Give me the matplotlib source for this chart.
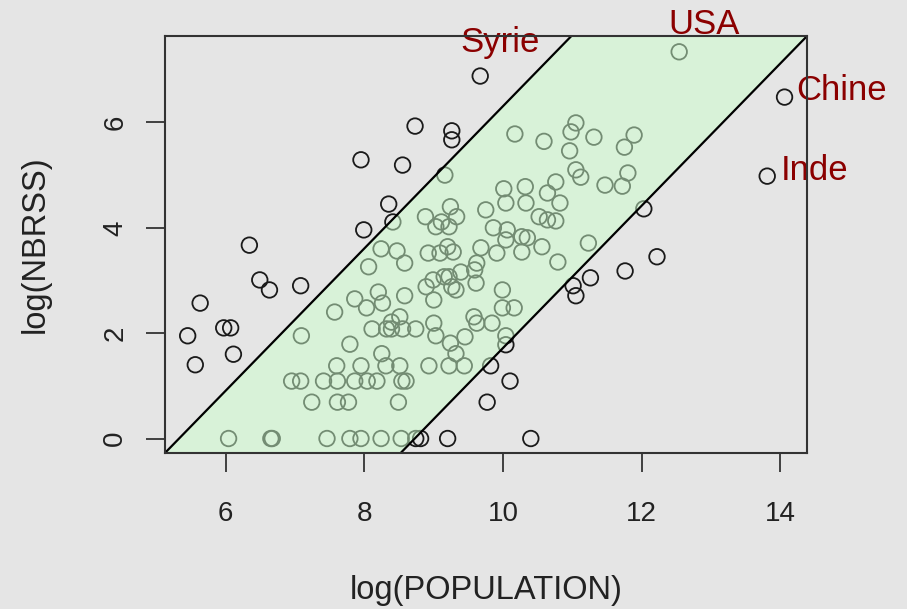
import matplotlib
matplotlib.use("Agg")
import matplotlib.pyplot as plt
from matplotlib.patches import Polygon

# ---- data: log(POPULATION) vs log(NBRSS) ----
log_pop = [
    5.45, 5.56, 5.63, 5.97, 6.07, 6.11, 6.34, 6.49, 6.63, 7.08,
    7.95, 7.99, 8.35, 8.41, 8.55, 8.73, 9.26, 9.26, 9.67, 12.22,
    11.76, 11.26, 11.01, 11.05, 10.04, 9.82, 10.10, 9.77, 9.20, 10.40,
    8.74, 8.81, 14.06, 13.81, 12.03, 12.54, 9.16,
    6.04, 6.65, 6.67, 7.46, 7.79, 7.95, 8.24, 8.53,
    6.95, 7.08, 7.41, 7.61, 7.86, 8.04, 8.18, 8.54, 8.60,
    7.24, 7.61, 7.77, 8.49,
    7.60, 7.95, 8.31, 8.51, 8.93, 9.22, 9.44,
    8.25, 9.32, 9.24, 9.45, 7.79, 7.09,
    8.20, 8.26, 8.58, 7.86, 8.03, 7.57, 8.51, 8.39,
    8.11, 8.32, 8.39, 8.55, 8.74, 9.00, 9.03,
    8.24, 8.47, 8.58, 8.92, 9.09, 9.20, 9.28, 8.06,
    8.89, 8.99, 9.22, 9.26, 9.39, 9.32, 9.61, 9.59, 9.62, 9.58, 9.62, 9.00,
    9.68, 9.91, 10.04, 10.27, 10.35, 10.27, 10.56, 10.79, 9.99, 9.99, 10.16,
    9.84, 10.04, 9.15,
    9.24, 9.33, 9.11, 9.22, 8.88, 9.03, 9.75, 9.86, 10.06, 10.01, 10.04,
    10.32, 10.33, 10.52, 10.64, 10.76, 10.76, 10.64, 10.82, 11.23,
    10.17, 10.59, 11.05, 10.98, 11.31, 11.89, 11.75, 10.96, 11.05, 11.12,
    11.47, 11.80, 11.72,
]
log_nbrss = [
    1.95, 1.40, 2.57, 2.10, 2.10, 1.60, 3.67, 3.01, 2.82, 2.90,
    5.29, 3.96, 4.45, 4.11, 5.19, 5.93, 5.84, 5.67, 6.88, 3.45,
    3.18, 3.05, 2.90, 2.71, 1.78, 1.38, 1.09, 0.69, 0.00, 0.00,
    0.00, 0.00, 6.48, 4.98, 4.36, 7.34, 5.00,
    0.00, 0.00, 0.00, 0.00, 0.00, 0.00, 0.00, 0.00,
    1.09, 1.09, 1.09, 1.09, 1.09, 1.09, 1.09, 1.09, 1.09,
    0.69, 0.69, 0.69, 0.69,
    1.38, 1.38, 1.38, 1.38, 1.38, 1.38, 1.38,
    1.61, 1.61, 1.81, 1.93, 1.79, 1.95,
    2.78, 2.57, 2.71, 2.65, 2.48, 2.40, 2.31, 2.21,
    2.08, 2.08, 2.08, 2.08, 2.08, 2.19, 1.95,
    3.60, 3.56, 3.33, 3.52, 3.52, 3.64, 3.54, 3.26,
    2.88, 3.01, 3.07, 2.88, 3.16, 2.82, 2.95, 3.20, 3.33, 2.31, 2.19, 2.63,
    3.62, 3.52, 3.77, 3.83, 3.81, 3.54, 3.64, 3.35, 2.82, 2.48, 2.48,
    2.19, 1.95, 3.07,
    4.40, 4.21, 4.11, 4.02, 4.21, 4.02, 4.34, 4.00, 3.96, 4.74, 4.47,
    4.78, 4.47, 4.21, 4.15, 4.13, 4.87, 4.66, 4.47, 3.71,
    5.78, 5.64, 5.99, 5.82, 5.72, 5.76, 5.53, 5.46, 5.10, 4.96,
    4.81, 5.04, 4.79,
]

# labelled countries and where their names are written
label_names = ["Syrie", "USA", "Chine", "Inde"]
label_x = [9.96, 12.90, 14.88, 14.49]
label_y = [7.51, 7.86, 6.60, 5.09]

# band around the fitted line (slope, intercepts of the two edges)
band_slope = 1.35
band_upper_intercept = -7.19
band_lower_intercept = -11.78

xlim = (5.123, 14.384)
ylim = (-0.275, 7.64)
xticks = [6, 8, 10, 12, 14]
yticks = [0, 2, 4, 6]

BG = "#E5E5E5"
FONT = ["Liberation Sans", "DejaVu Sans"]
plt.rcParams["font.family"] = FONT

fig = plt.figure(figsize=(9.07, 6.09), dpi=100, facecolor=BG)
ax = fig.add_axes([165 / 907, 1 - 453 / 609, 642 / 907, 417 / 609])
ax.set_facecolor(BG)

ax.scatter(log_pop, log_nbrss, s=125, facecolors="none", edgecolors="#1a1a1a",
           linewidths=1.3, zorder=2)

# parallelogram band drawn over the points with a translucent fill
y0, y1 = -10.0, 20.0
xu0 = (y0 - band_upper_intercept) / band_slope
xu1 = (y1 - band_upper_intercept) / band_slope
xl0 = (y0 - band_lower_intercept) / band_slope
xl1 = (y1 - band_lower_intercept) / band_slope
poly = Polygon([(xu0, y0), (xl0, y0), (xl1, y1), (xu1, y1)], closed=True,
               facecolor=(0.8, 1.0, 0.8, 0.5), edgecolor="black",
               linewidth=1.6, zorder=3)
ax.add_patch(poly)

for name, tx, ty in zip(label_names, label_x, label_y):
    ax.text(tx, ty, name, color="#8B0000", fontsize=25, ha="center",
            va="center", clip_on=False, zorder=5)

ax.set_xlim(*xlim)
ax.set_ylim(*ylim)
ax.set_xticks(xticks)
ax.set_yticks(yticks)
ax.set_xticklabels([str(t) for t in xticks])
ax.set_yticklabels([str(t) for t in yticks])

for sp in ax.spines.values():
    sp.set_color("#333333")
    sp.set_linewidth(1.5)
    sp.set_zorder(6)

ax.tick_params(axis="both", direction="out", length=13.5, width=1.3,
               color="#333333", labelsize=20, labelcolor="#222222")
ax.tick_params(axis="x", pad=21)
ax.tick_params(axis="y", pad=13, labelrotation=90)
for lab in ax.get_yticklabels():
    lab.set_va("center")

ax.set_xlabel("log(POPULATION)", fontsize=23.5, color="#222222")
ax.set_ylabel("log(NBRSS)", fontsize=23.5, color="#222222")
ax.xaxis.set_label_coords(0.5, (453 - 590) / 417)
ax.xaxis.label.set_va("center")
ax.yaxis.set_label_coords((35 - 165) / 642, 0.5)
ax.yaxis.label.set_va("center")

fig.savefig("out.png", dpi=100, facecolor=BG)
